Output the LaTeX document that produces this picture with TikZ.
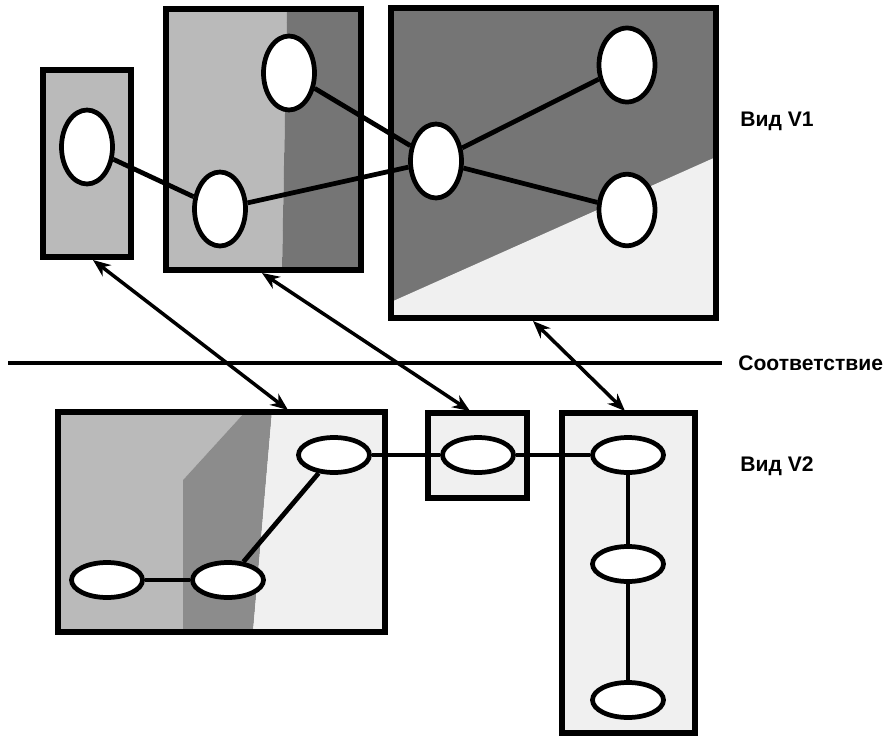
\documentclass[tikz,border=0pt]{standalone}
\usepackage{fontspec}
\setmainfont{Liberation Sans}
\usetikzlibrary{shapes.geometric,arrows.meta}
\definecolor{lightgrey}{gray}{0.73}
\definecolor{midgrey}{gray}{0.55}
\definecolor{darkgrey}{gray}{0.46}
\definecolor{paleg}{gray}{0.94}
\begin{document}
\begin{tikzpicture}[x=0.02cm,y=-0.02cm,>={Stealth[length=10pt,width=8pt]},
  every node/.style={font=\bfseries\fontsize{12}{14}\selectfont},
  tall/.style={ellipse,draw,fill=white,line width=2.7pt,inner sep=0pt,minimum width=1.02cm,minimum height=1.48cm},
  flat/.style={ellipse,draw,fill=white,line width=2.7pt,inner sep=0pt,minimum width=1.42cm,minimum height=0.70cm},
  frame/.style={draw,line width=3.2pt},
  link/.style={line width=2.7pt},
  match/.style={<->,line width=2pt},
  lbl/.style={anchor=west,inner sep=0pt}]
\useasboundingbox (0,0) rectangle (890,738);
\fill[lightgrey] (43,70) rectangle (131,257);
\fill[lightgrey] (166,9) -- (287,9) -- (282,270) -- (166,270) -- cycle;
\fill[darkgrey] (287,9) -- (361,9) -- (361,270) -- (282,270) -- cycle;
\fill[darkgrey] (391,8) rectangle (716,318);
\fill[paleg] (391,302) -- (716,157) -- (716,318) -- (391,318) -- cycle;
\fill[lightgrey] (58,412) -- (245,412) -- (183,480) -- (183,632) -- (58,632) -- cycle;
\fill[midgrey] (245,412) -- (272,412) -- (253,632) -- (183,632) -- (183,480) -- cycle;
\fill[paleg] (272,412) -- (385,412) -- (385,632) -- (253,632) -- cycle;
\fill[paleg] (428,413) rectangle (527,498);
\fill[paleg] (562,413) rectangle (695,733);
\draw[frame] (43,70) rectangle (131,257);
\draw[frame] (166,9) rectangle (361,270);
\draw[frame] (391,8) rectangle (716,318);
\draw[frame] (58,412) rectangle (385,632);
\draw[frame] (428,413) rectangle (527,498);
\draw[frame] (562,413) rectangle (695,733);
\draw[line width=2.2pt] (8,363) -- (722,363);
\node[lbl] (v1) at (740,121) {Вид V1};
\node[lbl] (corr) at (738,363) {Соответствие};
\node[lbl] (v2) at (740,466) {Вид V2};
\node[tall] (a1) at (87,147) {};
\node[tall] (b1) at (289,73) {};
\node[tall] (b2) at (220,209) {};
\node[tall] (c1) at (436,161) {};
\node[tall,minimum width=1.12cm] (c2) at (627,65) {};
\node[tall,minimum width=1.12cm,minimum height=1.43cm] (c3) at (627,210) {};
\node[flat] (d1) at (107,580) {};
\node[flat] (d2) at (228,580) {};
\node[flat] (d3) at (334,455) {};
\node[flat] (e1) at (478,455) {};
\node[flat] (f1) at (628,455) {};
\node[flat] (f2) at (628,564) {};
\node[flat] (f3) at (628,700) {};
\draw[link] (a1) -- (b2);
\draw[link] (b2) -- (c1);
\draw[link] (b1) -- (c1);
\draw[link] (c1) -- (c2);
\draw[link] (c1) -- (c3);
\draw[link] (d1) -- (d2);
\draw[link] (d2) -- (d3);
\draw[link] (d3) -- (e1);
\draw[link] (e1) -- (f1);
\draw[link] (f1) -- (f2);
\draw[link] (f2) -- (f3);
\coordinate (pa) at (93,260);
\coordinate (pd) at (288,410);
\coordinate (pb) at (262,273);
\coordinate (pe) at (470,411);
\coordinate (pc) at (533,321);
\coordinate (pf) at (625,411);
\draw[match] (pa) -- (pd);
\draw[match] (pb) -- (pe);
\draw[match] (pc) -- (pf);
\end{tikzpicture}
\end{document}
